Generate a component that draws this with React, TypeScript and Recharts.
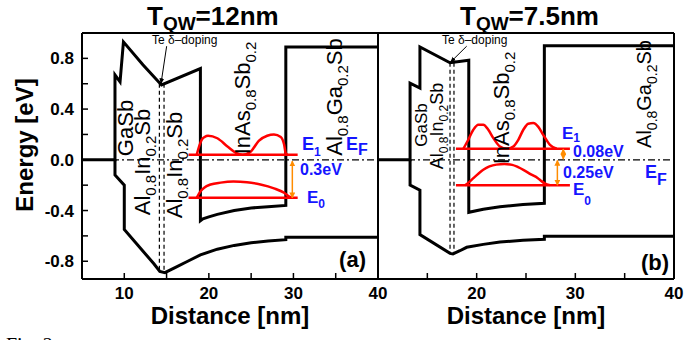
import { LineChart, Line, XAxis, YAxis, ReferenceLine } from "recharts";

type Pt = [number, number];

// ---- panel (a): T_QW = 12nm ----
const cbA: Pt[] = [[5, 0], [8.9, 0], [8.9, 0.67], [9.5, 0.615], [9.9, 0.93], [12.2, 0.75], [14.4, 0.59], [19, 0.72], [19, -0.48], [19.3, -0.465], [20, -0.45], [21, -0.43], [23, -0.4], [25, -0.38], [27, -0.37], [29.1, -0.36], [29.1, 0.89], [40, 0.89]];
const vbA: Pt[] = [[8.9, 0], [8.9, -0.12], [10, -0.2], [10, -0.55], [13.5, -0.82], [14.2, -0.88], [14.8, -0.89], [16, -0.85], [17.5, -0.8], [19, -0.75], [21, -0.705], [23, -0.675], [25, -0.655], [27, -0.64], [29.1, -0.63], [29.1, -0.61], [40, -0.61]];
const e1LevelA: Pt[] = [[17.6, 0.04], [30.5, 0.04]];
const e0LevelA: Pt[] = [[17.6, -0.3], [30.5, -0.3]];
const e1WaveA: Pt[] = [[18.56, 0.04], [19.15, 0.158], [19.5, 0.18], [19.9, 0.19], [21.0, 0.17], [22.2, 0.105], [23.2, 0.055], [24.0, 0.04], [25.0, 0.068], [25.9, 0.15], [26.9, 0.19], [27.7, 0.2], [28.5, 0.18], [28.9, 0.12], [29.1, 0.05], [29.3, 0.04]];
const e0WaveA: Pt[] = [[18.56, -0.3], [19.0, -0.25], [19.45, -0.22], [20.2, -0.195], [21.4, -0.18], [22.9, -0.172], [24.5, -0.177], [26.1, -0.195], [27.7, -0.225], [28.9, -0.26], [29.5, -0.29], [29.9, -0.3]];
const dashA: number[] = [14.15, 14.7];
const dashSpanA: Pt = [0.6, -0.88];
const gapArrowA: Pt[] = [[29.87, -0.01], [29.87, -0.3]];
const dopingArrowA: Pt[] = [[15.01, 0.896], [14.34, 0.6]];

// ---- panel (b): T_QW = 7.5nm ----
const cbB: Pt[] = [[10, 0], [13.25, 0], [13.25, 0.605], [14.25, 0.565], [14.25, 0.89], [17.3, 0.765], [19.2, 0.785], [19.2, -0.414], [20.67, -0.39], [22.36, -0.37], [24.7, -0.353], [26.86, -0.343], [26.86, 0.9], [40, 0.9]];
const vbB: Pt[] = [[13.25, 0], [13.25, -0.2], [14.25, -0.24], [14.25, -0.59], [17.3, -0.738], [17.6, -0.742], [18.3, -0.717], [18.99, -0.69], [20.67, -0.667], [22.36, -0.648], [24.7, -0.635], [26.86, -0.627], [26.86, -0.603], [40, -0.603]];
const e1LevelB: Pt[] = [[17.9, 0.087], [29.45, 0.087]];
const e0LevelB: Pt[] = [[17.9, -0.2], [29.45, -0.2]];
const e1WaveB: Pt[] = [[18.65, 0.087], [19.15, 0.158], [19.66, 0.237], [20.17, 0.277], [20.67, 0.277], [21.18, 0.237], [21.69, 0.171], [22.36, 0.105], [23.04, 0.087], [23.71, 0.105], [24.22, 0.158], [24.73, 0.237], [25.23, 0.285], [25.74, 0.29], [26.25, 0.26], [26.76, 0.195], [27.43, 0.118], [28.11, 0.087]];
const e0WaveB: Pt[] = [[18.82, -0.2], [19.2, -0.178], [19.66, -0.145], [20.2, -0.108], [20.67, -0.079], [21.3, -0.052], [22.0, -0.038], [22.8, -0.034], [23.6, -0.04], [24.2, -0.058], [24.73, -0.079], [25.5, -0.115], [26.2, -0.145], [26.6, -0.17], [26.9, -0.185], [27.43, -0.2]];
const dashB: number[] = [17.3, 17.7];
const dashSpanB: Pt = [0.765, -0.74];
const gapArrowB1: Pt[] = [[28.78, 0.085], [28.78, 0.005]];
const gapArrowB2: Pt[] = [[28.18, -0.005], [28.18, -0.2]];
const dopingArrowB: Pt[] = [[18.99, 0.896], [17.35, 0.77]];

// ---- axes ----
const yDomain: Pt = [-0.94, 1.0];
const yTicks = [-0.8, -0.6, -0.4, -0.2, 0, 0.2, 0.4, 0.6, 0.8];
const xDomainA: Pt = [5, 40];
const xTicksA = [10, 15, 20, 25, 30, 35, 40];
const xDomainB: Pt = [10, 40];
const xTicksB = [15, 20, 25, 30, 35, 40];

const FONT = "'Liberation Sans', Arial, Helvetica, sans-serif";
const BLUE = "#1515ff";
const RED = "#ff0000";
const ORANGE = "#ff8c00";

const axisFont = { fill: "#000", fontSize: 17, fontWeight: 700, fontFamily: FONT };
const frame = { stroke: "#000", strokeWidth: 2 };
const tickStyle = { stroke: "#000", strokeWidth: 1.5 };

const xy = (pts: Pt[]) => pts.map(([x, y]) => ({ x, y }));
const yFmt = (v: number) => (Math.round(v * 10) % 4 === 0 ? v.toFixed(1) : "");

const series = (id: string, pts: Pt[], color: string, width: number, curve: "linear" | "monotone" = "linear") => (
  <Line
    key={id}
    xAxisId="x"
    yAxisId="y"
    data={xy(pts)}
    dataKey="y"
    type={curve}
    stroke={color}
    strokeWidth={width}
    dot={false}
    activeDot={false}
    isAnimationActive={false}
  />
);

const seg = (id: string, a: Pt, b: Pt, props: Record<string, unknown>) => (
  <ReferenceLine
    key={id}
    xAxisId="x"
    yAxisId="y"
    segment={[{ x: a[0], y: a[1] }, { x: b[0], y: b[1] }]}
    {...props}
  />
);

const axes = (xDomain: Pt, xTicks: number[], xFmt: (v: number) => string, yLabels: boolean) => [
  <XAxis key="xb" xAxisId="x" type="number" dataKey="x" domain={xDomain} ticks={xTicks} interval={0} tickFormatter={xFmt}
    allowDataOverflow height={30} tickSize={-6} tickMargin={14} tick={axisFont} tickLine={tickStyle} axisLine={frame} />,
  <XAxis key="xt" xAxisId="t" orientation="top" type="number" domain={xDomain} ticks={xTicks} interval={0}
    allowDataOverflow height={1} tickSize={-5} tick={false} tickLine={tickStyle} axisLine={frame} />,
  <YAxis key="yl" yAxisId="y" type="number" domain={yDomain} ticks={yTicks} interval={0} tickFormatter={yFmt}
    allowDataOverflow width={yLabels ? 50 : 1} tickSize={-6} tickMargin={14} tick={yLabels ? axisFont : false} tickLine={tickStyle} axisLine={frame} />,
  <YAxis key="yr" yAxisId="r" orientation="right" type="number" domain={yDomain} ticks={yTicks} interval={0}
    allowDataOverflow width={1} tickSize={-5} tick={false} tickLine={tickStyle} axisLine={frame} />,
];

const bandLines = (p: string, cb: Pt[], vb: Pt[], dash: number[], span: Pt, e1: Pt[], e0: Pt[], w1: Pt[], w0: Pt[]) => [
  <ReferenceLine key={p + "ef"} xAxisId="x" yAxisId="y" y={0} stroke="#000" strokeWidth={1.2} strokeDasharray="7 3 2 3" />,
  ...dash.map((d, i) => seg(p + "d" + i, [d, span[0]], [d, span[1]], { stroke: "#000", strokeWidth: 1.2, strokeDasharray: "4 3" })),
  series(p + "cb", cb, "#000", 3),
  series(p + "vb", vb, "#000", 3),
  series(p + "e1", e1, RED, 2.5),
  series(p + "e0", e0, RED, 2.5),
  series(p + "w1", w1, RED, 2.5, "monotone"),
  series(p + "w0", w0, RED, 2.5, "monotone"),
];

function Layer({ x, y, size, parts }: { x: number; y: number; size: number; parts: string[] }) {
  const sub = Math.round(size * 0.68);
  const shift = Math.round(size * 0.28);
  return (
    <text x={x} y={y} transform={`rotate(-90 ${x} ${y})`} textAnchor="middle" fontSize={size} fill="#000">
      {parts.map((t, i) => (
        <tspan key={i} fontSize={i % 2 ? sub : size} dy={i === 0 ? 0 : i % 2 ? shift : -shift}>
          {t}
        </tspan>
      ))}
    </text>
  );
}

function Sub({ x, y, size, main, sub, subSize, dy, color = BLUE }: { x: number; y: number; size: number; main: string; sub: string; subSize: number; dy: number; color?: string }) {
  return (
    <text x={x} y={y} fontSize={size} fontWeight={700} fill={color}>
      {main}
      <tspan fontSize={subSize} dy={dy}>{sub}</tspan>
    </text>
  );
}

export default function App() {
  return (
    <div style={{ position: "absolute", left: 0, top: 0, width: 700, height: 340, background: "#fff", overflow: "hidden", fontFamily: FONT }}>
      <svg width={0} height={0} style={{ position: "absolute" }}>
        <defs>
          <marker id="arrOrange" viewBox="0 0 10 10" refX="9" refY="5" markerWidth="4" markerHeight="4" orient="auto-start-reverse">
            <path d="M0,0 L10,5 L0,10 z" fill={ORANGE} />
          </marker>
          <marker id="arrBlack" viewBox="0 0 10 10" refX="9" refY="5" markerWidth="6" markerHeight="6" orient="auto-start-reverse">
            <path d="M0,1 L10,5 L0,9 z" fill="#000" />
          </marker>
        </defs>
      </svg>

      <div style={{ position: "absolute", left: 0, top: 0 }}>
        <LineChart width={700} height={340} margin={{ top: 32, right: 321, bottom: 31, left: 32 }}>
          {axes(xDomainA, xTicksA, (v) => (v % 10 === 0 ? String(v) : ""), true)}
          {bandLines("a", cbA, vbA, dashA, dashSpanA, e1LevelA, e0LevelA, e1WaveA, e0WaveA)}
          {seg("ga", gapArrowA[0], gapArrowA[1], { stroke: ORANGE, strokeWidth: 1.5, markerStart: "url(#arrOrange)", markerEnd: "url(#arrOrange)" })}
          {seg("ta", dopingArrowA[0], dopingArrowA[1], { stroke: "#000", strokeWidth: 1, markerEnd: "url(#arrBlack)" })}
        </LineChart>
      </div>

      <div style={{ position: "absolute", left: 0, top: 0 }}>
        <LineChart width={700} height={340} margin={{ top: 32, right: 25, bottom: 31, left: 377 }}>
          {axes(xDomainB, xTicksB, (v) => (v % 10 === 0 ? String(v) : ""), false)}
          {bandLines("b", cbB, vbB, dashB, dashSpanB, e1LevelB, e0LevelB, e1WaveB, e0WaveB)}
          {seg("gb1", gapArrowB1[0], gapArrowB1[1], { stroke: ORANGE, strokeWidth: 1.5, markerStart: "url(#arrOrange)", markerEnd: "url(#arrOrange)" })}
          {seg("gb2", gapArrowB2[0], gapArrowB2[1], { stroke: ORANGE, strokeWidth: 1.5, markerStart: "url(#arrOrange)", markerEnd: "url(#arrOrange)" })}
          {seg("tb", dopingArrowB[0], dopingArrowB[1], { stroke: "#000", strokeWidth: 1, markerEnd: "url(#arrBlack)" })}
        </LineChart>
      </div>

      <svg width={700} height={340} style={{ position: "absolute", left: 0, top: 0, pointerEvents: "none" }} fontFamily={FONT}>
        {/* titles */}
        <text x={147} y={25} fontSize={26} fontWeight={700}>
          T<tspan fontSize={19} dy={5}>QW</tspan><tspan dy={-5}>=12nm</tspan>
        </text>
        <text x={460} y={25} fontSize={26} fontWeight={700}>
          T<tspan fontSize={19} dy={5}>QW</tspan><tspan dy={-5}>=7.5nm</tspan>
        </text>

        {/* axis titles */}
        <text x={33} y={145} transform="rotate(-90 33 145)" textAnchor="middle" fontSize={24} fontWeight={700}>Energy [eV]</text>
        <text x={230} y={324} textAnchor="middle" fontSize={24} fontWeight={700}>Distance [nm]</text>
        <text x={526} y={324} textAnchor="middle" fontSize={24} fontWeight={700}>Distance [nm]</text>

        {/* layers (a) */}
        <Layer x={133} y={128} size={22} parts={["GaSb"]} />
        <Layer x={150} y={162} size={22} parts={["Al", "0.8", "In", "0.2", "Sb"]} />
        <Layer x={182} y={165} size={22} parts={["Al", "0.8", "In", "0.2", "Sb"]} />
        <Layer x={250} y={98} size={22} parts={["InAs", "0.8", "Sb", "0.2"]} />
        <Layer x={342} y={97} size={22} parts={["Al", "0.8", "Ga", "0.2", "Sb"]} />

        {/* layers (b) */}
        <Layer x={427} y={125} size={17} parts={["GaSb"]} />
        <Layer x={443} y={126} size={18} parts={["Al", "0.8", "In", "0.2", "Sb"]} />
        <Layer x={509} y={108} size={22} parts={["InAs", "0.8", "Sb", "0.2"]} />
        <Layer x={651} y={94} size={20} parts={["Al", "0.8", "Ga", "0.2", "Sb"]} />

        {/* doping notes */}
        <text x={152} y={44} fontSize={12}>Te δ–doping</text>
        <text x={442} y={44} fontSize={12}>Te δ–doping</text>

        {/* energy labels (a) */}
        <Sub x={302} y={150} size={18} main="E" sub="1" subSize={12} dy={6} />
        <Sub x={346} y={150} size={18} main="E" sub="F" subSize={16} dy={5} />
        <text x={300} y={175} fontSize={16} fontWeight={700} fill={BLUE}>0.3eV</text>
        <Sub x={307} y={203} size={17} main="E" sub="0" subSize={12} dy={5} />

        {/* energy labels (b) */}
        <Sub x={562} y={139} size={17} main="E" sub="1" subSize={12} dy={3} />
        <text x={573} y={157} fontSize={16} fontWeight={700} fill={BLUE}>0.08eV</text>
        <text x={563} y={178} fontSize={16} fontWeight={700} fill={BLUE}>0.25eV</text>
        <Sub x={573} y={195} size={17} main="E" sub="0" subSize={12} dy={10} />
        <Sub x={645} y={178} size={18} main="E" sub="F" subSize={16} dy={7} />

        {/* panel tags */}
        <text x={366} y={267} textAnchor="end" fontSize={22} fontWeight={700}>(a)</text>
        <text x={669} y={270} textAnchor="end" fontSize={22} fontWeight={700}>(b)</text>

        {/* caption, cut off by the frame */}
        <text x={6} y={352} fontSize={20} fontFamily="'Liberation Serif', serif">Fig. 2</text>
      </svg>
    </div>
  );
}
